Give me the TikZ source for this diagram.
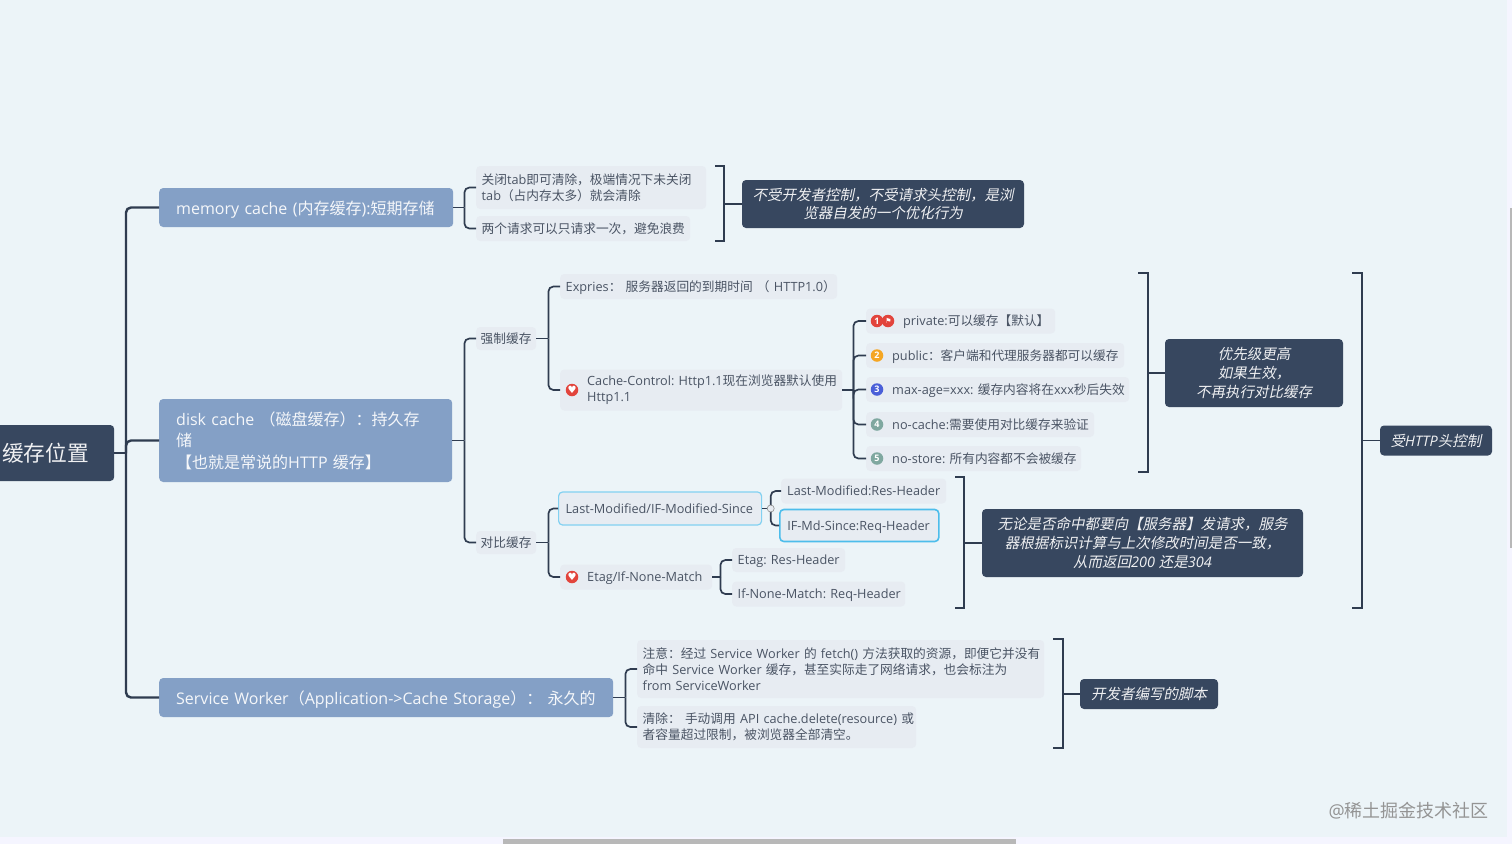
\documentclass[tikz,border=0pt]{standalone}
\usepackage{fontspec}
\setmainfont{Open Sans}
\newfontfamily\cjk{Noto Sans CJK SC}
\newfontfamily\cjkslant[FakeSlant=0.2]{Noto Sans CJK SC}
\newfontfamily\symfont{DejaVu Sans}
\newcommand{\zh}[1]{{\cjk #1}}
\newcommand{\zs}[1]{{\cjkslant #1}}
\usepackage{xcolor}
\definecolor{pagebg}{HTML}{ECF4F8}
\definecolor{rootc}{HTML}{37475F}
\definecolor{branchc}{HTML}{84A0C6}
\definecolor{leafc}{HTML}{E7ECF2}
\definecolor{leaftxt}{HTML}{4A5464}
\definecolor{linkc}{HTML}{2F3C50}
\definecolor{selc}{HTML}{4DBDEB}
\definecolor{redc}{HTML}{E2443C}
\begin{document}
\frenchspacing
\begin{tikzpicture}[x=1pt, y=-1pt,
      branch/.style={fill=branchc, rounded corners=4pt, anchor=west, align=left,
                  text=white!92!branchc, inner xsep=17pt, inner ysep=0pt, font=\fontsize{16}{21.5}\selectfont},
      branchone/.style={branch, text height=13pt, text depth=0pt},
      leaf/.style={fill=leafc, rounded corners=4pt, anchor=west, align=left,
                  text=leaftxt, inner xsep=5.5pt, inner ysep=0pt, font=\fontsize{12.7}{16.3}\selectfont},
      single/.style={leaf, text height=10pt, text depth=1pt},
      tag/.style={fill=rootc, rounded corners=4pt, align=center, text=white!92!rootc,
                  inner sep=0pt, font=\itshape\fontsize{14.5}{18.7}\selectfont},
      icon/.style={circle, inner sep=0pt, minimum size=12.5pt, text=white,
                  font=\bfseries\fontsize{9}{9}\selectfont},
      hearticon/.style={icon, fill=redc, font=\symfont\fontsize{10}{10}\selectfont},
      link/.style={draw=linkc, line width=1.7pt, rounded corners=5pt},
      trunklink/.style={link, line width=2.4pt},
      brk/.style={draw=linkc, line width=1.7pt}]
    % page and scroll bars
    \fill[pagebg] (0,0) rectangle (1512,844);
    \fill[white!96!blue] (0,837) rectangle (1512,844);
    \fill[white!96!blue] (1507,0) rectangle (1512,844);
    \fill[black!28] (503,839) rectangle (1016,844);
    \fill[black!28] (1510,208) rectangle (1512,548);
    \useasboundingbox (0,0) rectangle (1512,844);
    % root and branches
    \node[fill=rootc, rounded corners=4pt, anchor=west, minimum width=124pt, minimum height=56pt,
          text width=112pt, inner xsep=6pt, inner ysep=0pt, text=white!92!rootc,
          font=\fontsize{21.7}{26}\selectfont] (root) at (-10,453) {\hspace*{6pt}\zh{缓存位置}};
    \node[branchone, minimum height=39pt, text width=260pt] (mem) at (159,207.5)
      {\mbox{memory cache (\zh{内存缓存}):\zh{短期存储}}};
    \node[branch, minimum height=83pt, text width=259pt] (disk) at (159,440.5)
      {disk cache \zh{（磁盘缓存）：}\zh{持久存}\\\zh{储}\\\zh{【也就是常说的}HTTP \zh{缓存】}};
    \node[branchone, minimum height=39pt, text width=420pt] (sw) at (159,697.5)
      {\mbox{Service Worker\zh{（}Application->Cache Storage\zh{）：} \zh{永久的}}};
    \coordinate (trunk) at (126,453);
    \draw[trunklink] (root.east) -- (trunk);
    \foreach \b in {mem,disk,sw} \draw[trunklink] (trunk) |- (\b.west);
    % memory cache
    \node[leaf, minimum height=43pt, text width=219pt] (memA) at (476,187.5)
      {\zh{关闭}tab\zh{即可清除，极端情况下未关闭}\\tab\zh{（占内存太多）就会清除}};
    \node[single, minimum height=25pt, text width=203pt] (memB) at (476,228.5)
      {\zh{两个请求可以只请求一次，避免浪费}};
    \draw[link] (mem.east) -- ++(11,0) coordinate (memfork);
    \foreach \c in {memA,memB} \draw[link] (memfork) |- (\c.west);
    \node[tag, minimum width=282pt, minimum height=48pt] (memtag) at (883,204)
      {\zs{不受开发者控制，不受请求头控制，是浏}\\\zs{览器自发的一个优化行为}};
    \draw[brk] (715,166) -| (724,241) -- (715,241);
    \coordinate (membrk) at (724,204);
    \draw[link] (membrk) -- (memtag.west);
    % disk cache
    \node[single, minimum height=23pt, inner xsep=4.5pt, text width=51pt] (strong) at (476,338.5) {\mbox{\zh{强制缓存}}};
    \node[single, minimum height=23pt, inner xsep=4.5pt, text width=51pt] (weak) at (476,542.5) {\mbox{\zh{对比缓存}}};
    \draw[link] (disk.east) -- ++(12,0) coordinate (diskfork);
    \foreach \c in {strong,weak} \draw[link] (diskfork) |- (\c.west);
    \node[single, minimum height=25pt, text width=266pt] (expires) at (560,286.5)
      {\mbox{Expries\zh{：} \zh{服务器返回的到期时间} \zh{（} HTTP1.0\zh{）}}};
    \node[leaf, minimum height=41pt, inner xsep=0pt, text width=282pt] (cache) at (560,390)
      {\hspace*{27pt}\mbox{Cache-Control: Http1.1\zh{现在浏览器默认使用}}\\\hspace*{27pt}Http1.1};
    \node[hearticon] (cacheicon) at (572,390) {♥};
    \draw[link] (strong.east) -- ++(12,0) coordinate (strongfork);
    \draw[link] (strongfork) |- (expires.west);
    \draw[link] (strongfork) |- (cache.west);
    \foreach \n/\yy/\w/\col/\d/\txt in {
        pub/355.5/258/F5A623/2/{public\zh{：}\zh{客户端和代理服务器都可以缓存}},
        age/389.5/263/4A5FD8/3/{max-age=xxx: \zh{缓存内容将在}xxx\zh{秒后失效}},
        noc/424.5/228/7FA8A0/4/{no-cache:\zh{需要使用对比缓存来验证}},
        nos/458.5/215/7FA8A0/5/{no-store: \zh{所有内容都不会被缓存}}}{
      \node[single, minimum height=25pt, inner xsep=0pt, text width=\w pt] (\n) at (866,\yy)
        {\hspace*{26pt}\txt};
      \definecolor{iconc}{HTML}{\col}
      \node[icon, fill=iconc] (\n icon) at (877,\yy) {\d};
    }
    \node[single, minimum height=25pt, inner xsep=0pt, text width=189pt] (pri) at (866,321)
      {\hspace*{37pt}private:\zh{可以缓存【默认】}};
    \node[icon, fill=redc] (priA) at (888,321) {};
    \node[icon, fill=redc] (priB) at (877,321) {1};
    \node[font=\symfont\fontsize{7}{7}\selectfont, text=white, inner sep=0pt] (priflag) at (888.5,321) {⚑};
    \draw[link] (cache.east) -- ++(11,0) coordinate (cachefork);
    \foreach \c in {pri,pub,age,noc,nos} \draw[link] (cachefork) |- (\c.west);
    \draw[brk] (1138,273) -| (1148,472) -- (1138,472);
    \coordinate (strongbrk) at (1148,373);
    \node[tag, minimum width=178pt, minimum height=68pt] (strongtag) at (1254,373)
      {\zs{优先级更高}\\\zs{如果生效，}\\\zs{不再执行对比缓存}};
    \draw[link] (strongbrk) -- (strongtag.west);
    % negotiated cache
    \node[single, draw=selc!70, line width=1.2pt, minimum height=33pt, inner xsep=7pt, text width=189pt] (lm) at (558,508.5)
      {\mbox{Last-Modified/IF-Modified-Since}};
    \node[single, minimum height=25pt, inner xsep=0pt, text width=152pt] (etag) at (560,577)
      {\hspace*{27pt}\mbox{Etag/If-None-Match}};
    \node[hearticon] (etagicon) at (572,577) {♥};
    \draw[link] (weak.east) -- ++(12,0) coordinate (weakfork);
    \draw[link] (weakfork) |- (lm.west);
    \draw[link] (weakfork) |- (etag.west);
    \node[single, minimum height=25pt, inner xsep=6pt, text width=153pt] (lmres) at (781,491) {\mbox{Last-Modified:Res-Header}};
    \node[single, draw=selc, line width=1.6pt, minimum height=32pt, inner xsep=7.5pt, text width=144pt] (lmreq) at (779,525.5) {\mbox{IF-Md-Since:Req-Header}};
    \node[single, minimum height=24pt, text width=102pt] (etagres) at (732,560) {\mbox{Etag: Res-Header}};
    \node[single, minimum height=25pt, text width=162pt] (etagreq) at (732,594) {\mbox{If-None-Match: Req-Header}};
    \draw[link] (lm.east) -- ++(8.5,0) coordinate (lmfork);
    \foreach \c in {lmres,lmreq} \draw[link] (lmfork) |- (\c.west);
    \node[circle, draw=black!45, fill=leafc, line width=.6pt, minimum size=7pt, inner sep=0pt] (lmfold) at (lmfork) {};
    \draw[link] (etag.east) -- ++(8,0) coordinate (etagfork);
    \foreach \c in {etagres,etagreq} \draw[link] (etagfork) |- (\c.west);
    \draw[brk] (955,477) -| (964,608) -- (955,608);
    \coordinate (weakbrk) at (964,543);
    \node[tag, minimum width=321pt, minimum height=68pt] (weaktag) at (1142.5,543)
      {\zs{无论是否命中都要向【服务器】发请求，服务}\\\zs{器根据标识计算与上次修改时间是否一致，}\\\zs{从而返回}200 \zs{还是}304};
    \draw[link] (weakbrk) -- (weaktag.west);
    \draw[brk] (1352,273) -| (1362,608) -- (1352,608);
    \coordinate (diskbrk) at (1362,440.5);
    \node[tag, minimum width=112pt, minimum height=30pt] (disktag) at (1436,440.5) {\zs{受}HTTP\zs{头控制}};
    \draw[link] (diskbrk) -- (disktag.west);
    % service worker
    \node[leaf, minimum height=58pt, text width=396pt] (swA) at (637,669)
      {\mbox{\zh{注意：经过} Service Worker \zh{的} fetch() \zh{方法获取的资源，即便它并没有}}\\\mbox{\zh{命中} Service Worker \zh{缓存，甚至实际走了网络请求，也会标注为}}\\from ServiceWorker};
    \node[leaf, minimum height=42pt, text width=268pt] (swB) at (637,727)
      {\mbox{\zh{清除：} \zh{手动调用} API cache.delete(resource) \zh{或}}\\\zh{者容量超过限制，被浏览器全部清空。}};
    \draw[link] (sw.east) -- ++(12,0) coordinate (swfork);
    \foreach \c in {swA,swB} \draw[link] (swfork) |- (\c.west);
    \draw[brk] (1053,639) -| (1063,748) -- (1053,748);
    \coordinate (swbrk) at (1063,694);
    \node[tag, minimum width=138pt, minimum height=30pt] (swtag) at (1149,694) {\zs{开发者编写的脚本}};
    \draw[link] (swbrk) -- (swtag.west);
    % watermark
    \node[text=black!42, inner sep=0pt, anchor=east, font=\fontsize{18}{18}\selectfont] (mark) at (1489,811) {@\zh{稀土掘金技术社区}};
  \end{tikzpicture}
\end{document}
